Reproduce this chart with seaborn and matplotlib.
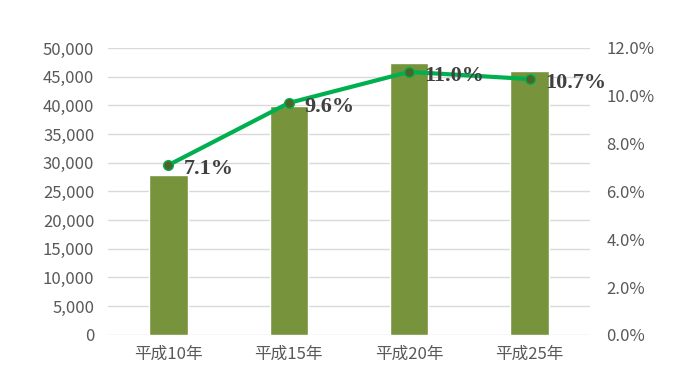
import matplotlib
matplotlib.use("Agg")
import matplotlib.pyplot as plt
import seaborn as sns
import pandas as pd
from matplotlib.ticker import FuncFormatter

years = ["平成10年", "平成15年", "平成20年", "平成25年"]
counts = [27800, 39900, 47400, 46000]
rates = [7.1, 9.7, 11.0, 10.7]
rate_labels = ["7.1%", "9.6%", "11.0%", "10.7%"]

sns.set_style("white")
plt.rcParams["font.family"] = ["Noto Sans CJK JP", "DejaVu Sans"]

df = pd.DataFrame({"year": years, "count": counts, "rate": rates})

fig = plt.figure(figsize=(6.89, 3.84), dpi=100)
ax = fig.add_axes([0.157, 0.128, 0.699, 0.747])
sns.barplot(data=df, x="year", y="count", color="#77933C", width=0.32,
            saturation=1, ax=ax, zorder=2)
ax.set_ylim(0, 50000)
ax.set_yticks(range(0, 50001, 5000))
ax.yaxis.set_major_formatter(FuncFormatter(lambda v, p: f"{int(v):,}"))
ax.grid(axis="y", color="#D9D9D9", linewidth=1, zorder=0)
ax.set_axisbelow(True)
ax.set_xlabel("")
ax.set_ylabel("")
ax.set_xlim(-0.5, 3.5)
for s in ax.spines.values():
    s.set_visible(False)
ax.tick_params(axis="y", length=0, labelsize=12, colors="#595959", pad=10)
ax.tick_params(axis="x", length=0, labelsize=12, colors="#595959", pad=8)

ax2 = ax.twinx()
sns.lineplot(data=df, x="year", y="rate", color="#00B050", linewidth=3,
             marker="o", markersize=7, markerfacecolor="#4F6228",
             markeredgecolor="#00B050", markeredgewidth=1, ax=ax2, zorder=3)
ax2.set_ylim(0, 12)
ax2.set_yticks(range(0, 13, 2))
ax2.yaxis.set_major_formatter(FuncFormatter(lambda v, p: f"{v:.1f}%"))
ax2.set_ylabel("")
ax2.set_xlim(-0.5, 3.5)
for s in ax2.spines.values():
    s.set_visible(False)
ax2.tick_params(axis="y", length=0, labelsize=12, colors="#595959", pad=12)

for i, (r, lab) in enumerate(zip(rates, rate_labels)):
    ax2.annotate(lab, (i, r), xytext=(11, -3), textcoords="offset points",
                 ha="left", va="center", fontsize=16, fontweight="bold",
                 color="#404040", family=["Liberation Serif"])

fig.savefig("out.png", dpi=100)
